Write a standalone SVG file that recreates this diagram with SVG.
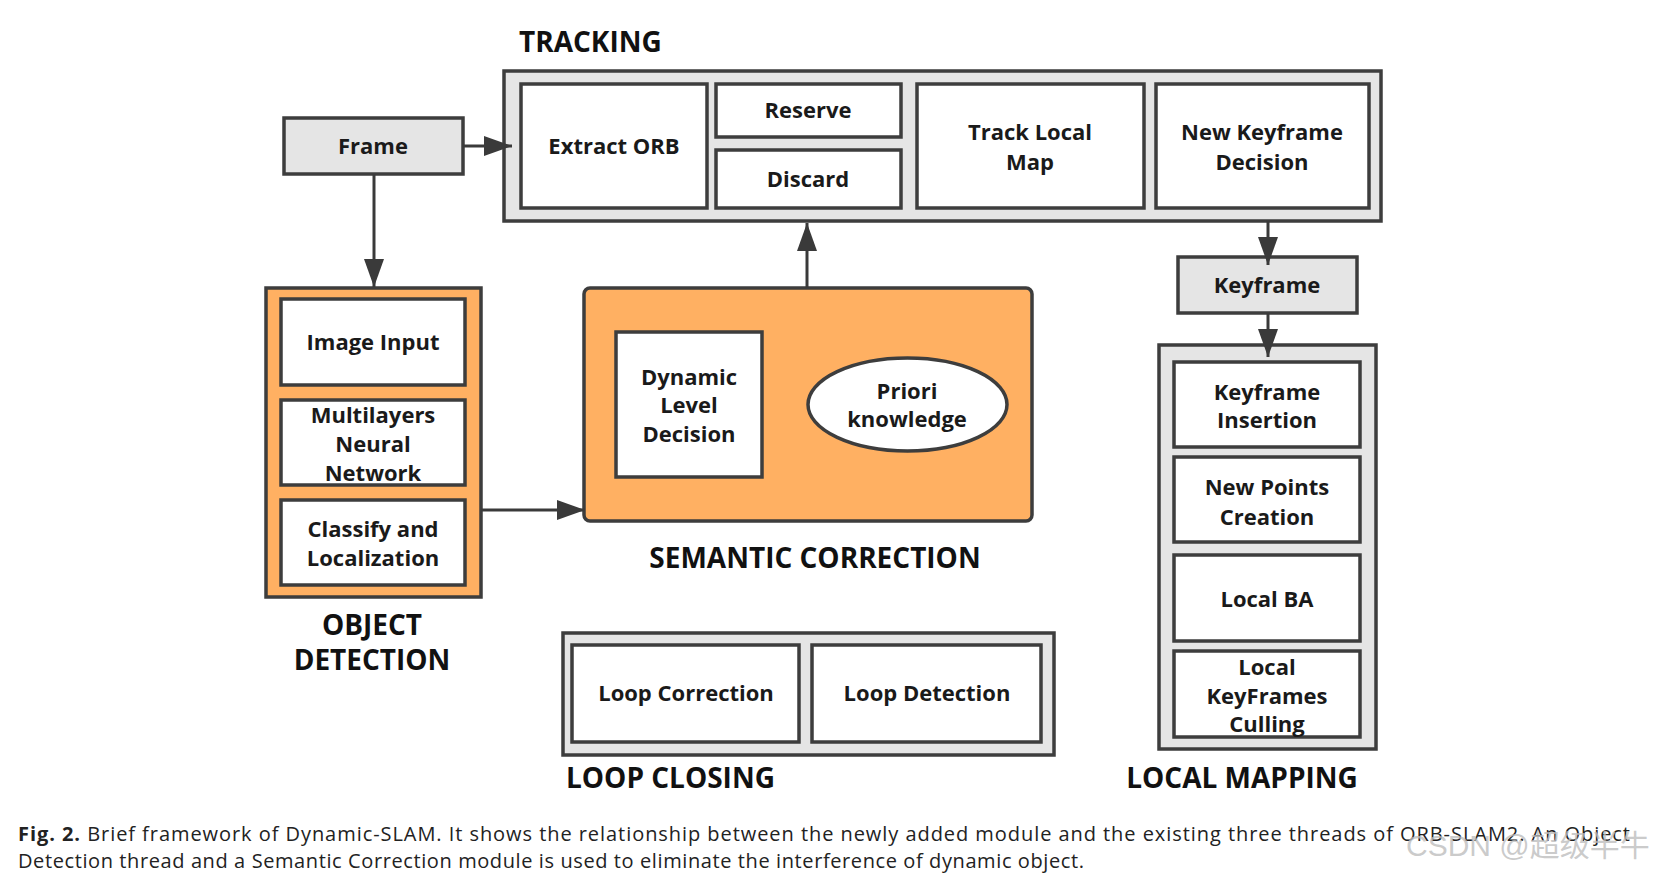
<svg xmlns="http://www.w3.org/2000/svg" width="1657" height="873" viewBox="0 0 1657 873">
<style>
.g{fill:#e5e5e5;stroke:#3d3d3d;stroke-width:3.5}
.w{fill:#ffffff;stroke:#3d3d3d;stroke-width:3.5}
.o{fill:#ffb062;stroke:#3d3d3d;stroke-width:3.5}
.t{font-family:"Open Sans","Noto Sans","DejaVu Sans",sans-serif;font-weight:700;font-size:22px;fill:#1a1a1a;text-anchor:middle}
.h{font-family:"Open Sans","Noto Sans","DejaVu Sans",sans-serif;font-weight:700;font-size:28px;fill:#111}
.c{font-family:"Open Sans","Noto Sans","DejaVu Sans",sans-serif;font-size:20px;fill:#222}
.ln{stroke:#3a3a3a;stroke-width:3;fill:none}
</style>
<defs>
<marker id="ah" markerUnits="userSpaceOnUse" markerWidth="30" markerHeight="20" refX="28" refY="10" orient="auto">
<path d="M0,0 L28,10 L0,20 z" fill="#3a3a3a"/>
</marker>
</defs>
<rect width="1657" height="873" fill="#ffffff"/>

<g id="tracking">
<rect class="g" x="504" y="71" width="877" height="150"/>
<text class="h" x="519" y="52">TRACKING</text>
</g>
<g id="extract-orb">
<rect class="w" x="521" y="84" width="186" height="124"/>
<text class="t" x="614" y="154">Extract ORB</text>
</g>
<g id="reserve">
<rect class="w" x="716" y="84" width="185" height="53"/>
<text class="t" x="808" y="118">Reserve</text>
</g>
<g id="discard">
<rect class="w" x="716" y="150" width="185" height="58"/>
<text class="t" x="808" y="187">Discard</text>
</g>
<g id="track-local-map">
<rect class="w" x="917" y="84" width="227" height="124"/>
<text class="t" x="1030" y="140">Track Local</text>
<text class="t" x="1030" y="170">Map</text>
</g>
<g id="new-keyframe-decision">
<rect class="w" x="1156" y="84" width="213" height="124"/>
<text class="t" x="1262" y="140">New Keyframe</text>
<text class="t" x="1262" y="170">Decision</text>
</g>

<g id="frame">
<rect class="g" x="284" y="118" width="179" height="56"/>
<text class="t" x="373" y="154">Frame</text>
</g>

<g id="keyframe">
<rect class="g" x="1178" y="257" width="179" height="56"/>
<text class="t" x="1267" y="293">Keyframe</text>
</g>

<g id="object-detection">
<rect class="o" x="266" y="288" width="215" height="309"/>
<text class="h" x="372" y="635" text-anchor="middle">OBJECT</text>
<text class="h" x="372" y="670" text-anchor="middle">DETECTION</text>
</g>
<g id="image-input">
<rect class="w" x="281" y="299" width="184" height="86"/>
<text class="t" x="373" y="350">Image Input</text>
</g>
<g id="neural-network">
<rect class="w" x="281" y="400" width="184" height="85"/>
<text class="t" x="373" y="423">Multilayers</text>
<text class="t" x="373" y="452">Neural</text>
<text class="t" x="373" y="481">Network</text>
</g>
<g id="classify">
<rect class="w" x="281" y="500" width="184" height="85"/>
<text class="t" x="373" y="537">Classify and</text>
<text class="t" x="373" y="566">Localization</text>
</g>

<g id="semantic-correction">
<rect class="o" x="584" y="288" width="448" height="233" rx="6"/>
<text class="h" x="815" y="568" text-anchor="middle">SEMANTIC CORRECTION</text>
</g>
<g id="dynamic-level-decision">
<rect class="w" x="616" y="332" width="146" height="145"/>
<text class="t" x="689" y="385">Dynamic</text>
<text class="t" x="689" y="413">Level</text>
<text class="t" x="689" y="442">Decision</text>
</g>
<g id="priori-knowledge">
<ellipse class="w" cx="907.5" cy="404.5" rx="99.5" ry="46.5"/>
<text class="t" x="907" y="399">Priori</text>
<text class="t" x="907" y="427">knowledge</text>
</g>

<g id="loop-closing">
<rect class="g" x="563" y="633" width="491" height="122"/>
<text class="h" x="566" y="788">LOOP CLOSING</text>
</g>
<g id="loop-correction">
<rect class="w" x="572" y="645" width="227" height="97"/>
<text class="t" x="686" y="701">Loop Correction</text>
</g>
<g id="loop-detection">
<rect class="w" x="812" y="645" width="229" height="97"/>
<text class="t" x="927" y="701">Loop Detection</text>
</g>

<g id="local-mapping">
<rect class="g" x="1159" y="345" width="217" height="404"/>
<text class="h" x="1242" y="788" text-anchor="middle">LOCAL MAPPING</text>
</g>
<g id="keyframe-insertion">
<rect class="w" x="1174" y="362" width="186" height="85"/>
<text class="t" x="1267" y="400">Keyframe</text>
<text class="t" x="1267" y="428">Insertion</text>
</g>
<g id="new-points-creation">
<rect class="w" x="1174" y="457" width="186" height="85"/>
<text class="t" x="1267" y="495">New Points</text>
<text class="t" x="1267" y="525">Creation</text>
</g>
<g id="local-ba">
<rect class="w" x="1174" y="555" width="186" height="86"/>
<text class="t" x="1267" y="607">Local BA</text>
</g>
<g id="keyframes-culling">
<rect class="w" x="1174" y="651" width="186" height="86"/>
<text class="t" x="1267" y="675">Local</text>
<text class="t" x="1267" y="704">KeyFrames</text>
<text class="t" x="1267" y="732">Culling</text>
</g>

<g id="connectors">
<line class="ln" x1="463" y1="146" x2="512" y2="146" marker-end="url(#ah)"/>
<line class="ln" x1="374" y1="174" x2="374" y2="287" marker-end="url(#ah)"/>
<line class="ln" x1="481" y1="510" x2="585" y2="510" marker-end="url(#ah)"/>
<line class="ln" x1="807" y1="288" x2="807" y2="223" marker-end="url(#ah)"/>
<line class="ln" x1="1268" y1="221" x2="1268" y2="265" marker-end="url(#ah)"/>
<line class="ln" x1="1268" y1="313" x2="1268" y2="357" marker-end="url(#ah)"/>
</g>

<g id="caption">
<text class="c" x="18" y="841" textLength="1612" lengthAdjust="spacing"><tspan font-weight="700">Fig. 2.</tspan> Brief framework of Dynamic-SLAM. It shows the relationship between the newly added module and the existing three threads of ORB-SLAM2. An Object</text>
<text class="c" x="18" y="868" textLength="1066" lengthAdjust="spacing">Detection thread and a Semantic Correction module is used to eliminate the interference of dynamic object.</text>
<text x="1406" y="856" font-family="'Liberation Sans','Noto Sans CJK SC',sans-serif" font-size="30" fill="#bdbdbd" fill-opacity="0.8">CSDN @超级半牛</text>
</g>
</svg>
